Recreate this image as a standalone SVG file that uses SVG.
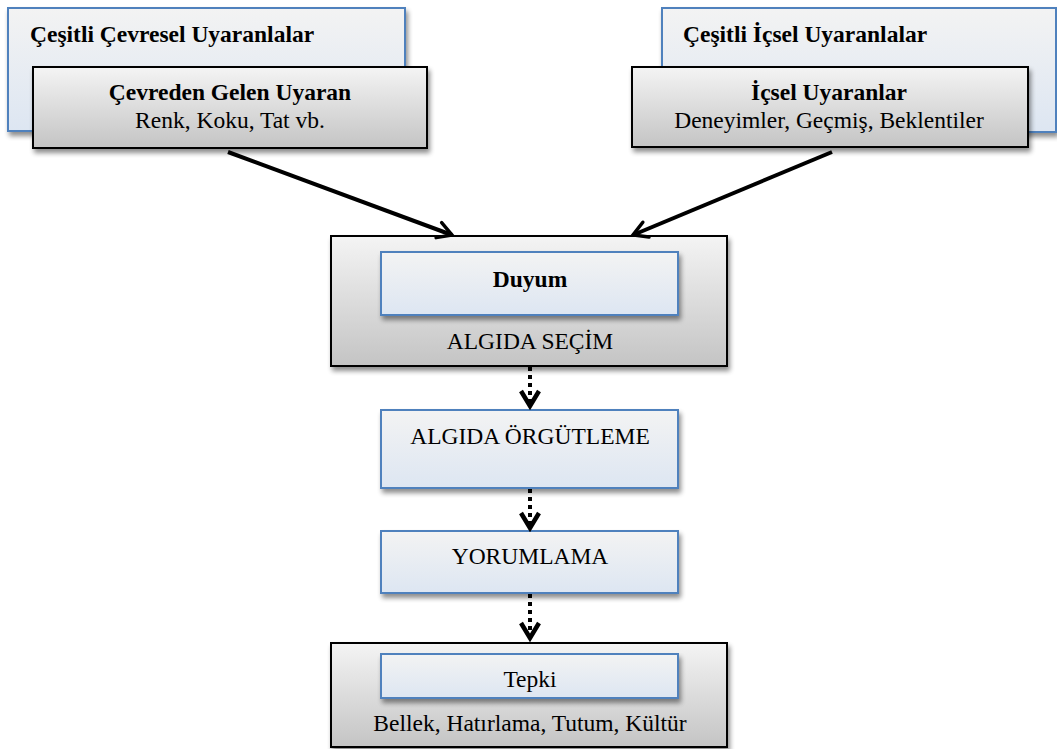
<svg xmlns="http://www.w3.org/2000/svg" width="1057" height="749" viewBox="0 0 1057 749">
<defs>
<linearGradient id="gGray" x1="0" y1="0" x2="0" y2="1">
<stop offset="0" stop-color="#f4f4f4"/><stop offset="1" stop-color="#c4c4c4"/>
</linearGradient>
<linearGradient id="gBlue" x1="0" y1="0" x2="0" y2="1">
<stop offset="0" stop-color="#f3f3f3"/><stop offset="1" stop-color="#dde6f2"/>
</linearGradient>
<filter id="sh" x="-10%" y="-10%" width="130%" height="140%">
<feGaussianBlur in="SourceAlpha" stdDeviation="2.5"/>
<feOffset dx="2" dy="4"/>
<feComponentTransfer><feFuncA type="linear" slope="0.45"/></feComponentTransfer>
<feMerge><feMergeNode/><feMergeNode in="SourceGraphic"/></feMerge>
</filter>
<marker id="ah" viewBox="0 0 20 20" refX="17" refY="10" markerWidth="20" markerHeight="20" markerUnits="userSpaceOnUse" orient="auto">
<path d="M3,2 L17,10 L3,18" fill="none" stroke="#000" stroke-width="3.5" stroke-linecap="round" stroke-linejoin="miter"/>
</marker>
<marker id="ahd" viewBox="0 0 24 24" refX="20" refY="12" markerWidth="24" markerHeight="24" markerUnits="userSpaceOnUse" orient="auto">
<path d="M5,3 L20,12 L5,21" fill="none" stroke="#000" stroke-width="4.5" stroke-linejoin="miter"/>
</marker>
</defs>
<style>
.gray{fill:url(#gGray);stroke:#000;stroke-width:2;filter:url(#sh)}
.blue{fill:url(#gBlue);stroke:#4f81bd;stroke-width:2;filter:url(#sh)}
text{font-family:"Liberation Serif","Times New Roman",serif;font-size:23.5px;fill:#000}
.b{font-weight:bold}
.c{text-anchor:middle}
.solid{stroke:#000;stroke-width:4;fill:none;marker-end:url(#ah)}
.dot{stroke:#000;stroke-width:4;stroke-dasharray:4 4;fill:none;marker-end:url(#ahd)}
</style>
<g font-family="'Liberation Serif', 'Times New Roman', serif">
<g id="n-cevresel-bg">
<rect class="blue" x="8" y="8" width="397" height="123"/>
<text class="b" x="30" y="42">Çeşitli Çevresel Uyaranlalar</text>
</g>
<g id="n-icsel-bg">
<rect class="blue" x="662" y="8" width="394" height="124"/>
<text class="b" x="683" y="42">Çeşitli İçsel Uyaranlalar</text>
</g>
<g id="n-cevreden">
<rect class="gray" x="33" y="67" width="394" height="81"/>
<text class="b c" x="230" y="100">Çevreden Gelen Uyaran</text>
<text class="c" x="230" y="128">Renk, Koku, Tat vb.</text>
</g>
<g id="n-icsel">
<rect class="gray" x="632" y="67" width="396" height="80"/>
<text class="b c" x="829" y="100">İçsel Uyaranlar</text>
<text class="c" x="829" y="128">Deneyimler, Geçmiş, Beklentiler</text>
</g>
<g id="n-secim">
<rect class="gray" x="331" y="236" width="396" height="130"/>
<rect class="blue" x="381" y="252" width="297" height="63"/>
<text class="b c" x="530" y="287">Duyum</text>
<text class="c" x="530" y="349">ALGIDA SEÇİM</text>
</g>
<g id="n-orgutleme">
<rect class="blue" x="381" y="410" width="297" height="78"/>
<text class="c" x="530" y="444">ALGIDA ÖRGÜTLEME</text>
</g>
<g id="n-yorumlama">
<rect class="blue" x="381" y="531" width="297" height="62"/>
<text class="c" x="530" y="564">YORUMLAMA</text>
</g>
<g id="n-tepki">
<rect class="gray" x="331" y="643" width="396" height="104"/>
<rect class="blue" x="381" y="654" width="297" height="44"/>
<text class="c" x="530" y="687">Tepki</text>
<text class="c" x="530" y="731">Bellek, Hatırlama, Tutum, Kültür</text>
</g>
</g>
<g id="connectors">
<path class="solid" d="M228,152 L452,235"/>
<path class="solid" d="M832,152 L633,235"/>
<path class="dot" d="M530,367 L530,406"/>
<path class="dot" d="M530,489 L530,528"/>
<path class="dot" d="M530,594 L530,638"/>
</g>
</svg>
